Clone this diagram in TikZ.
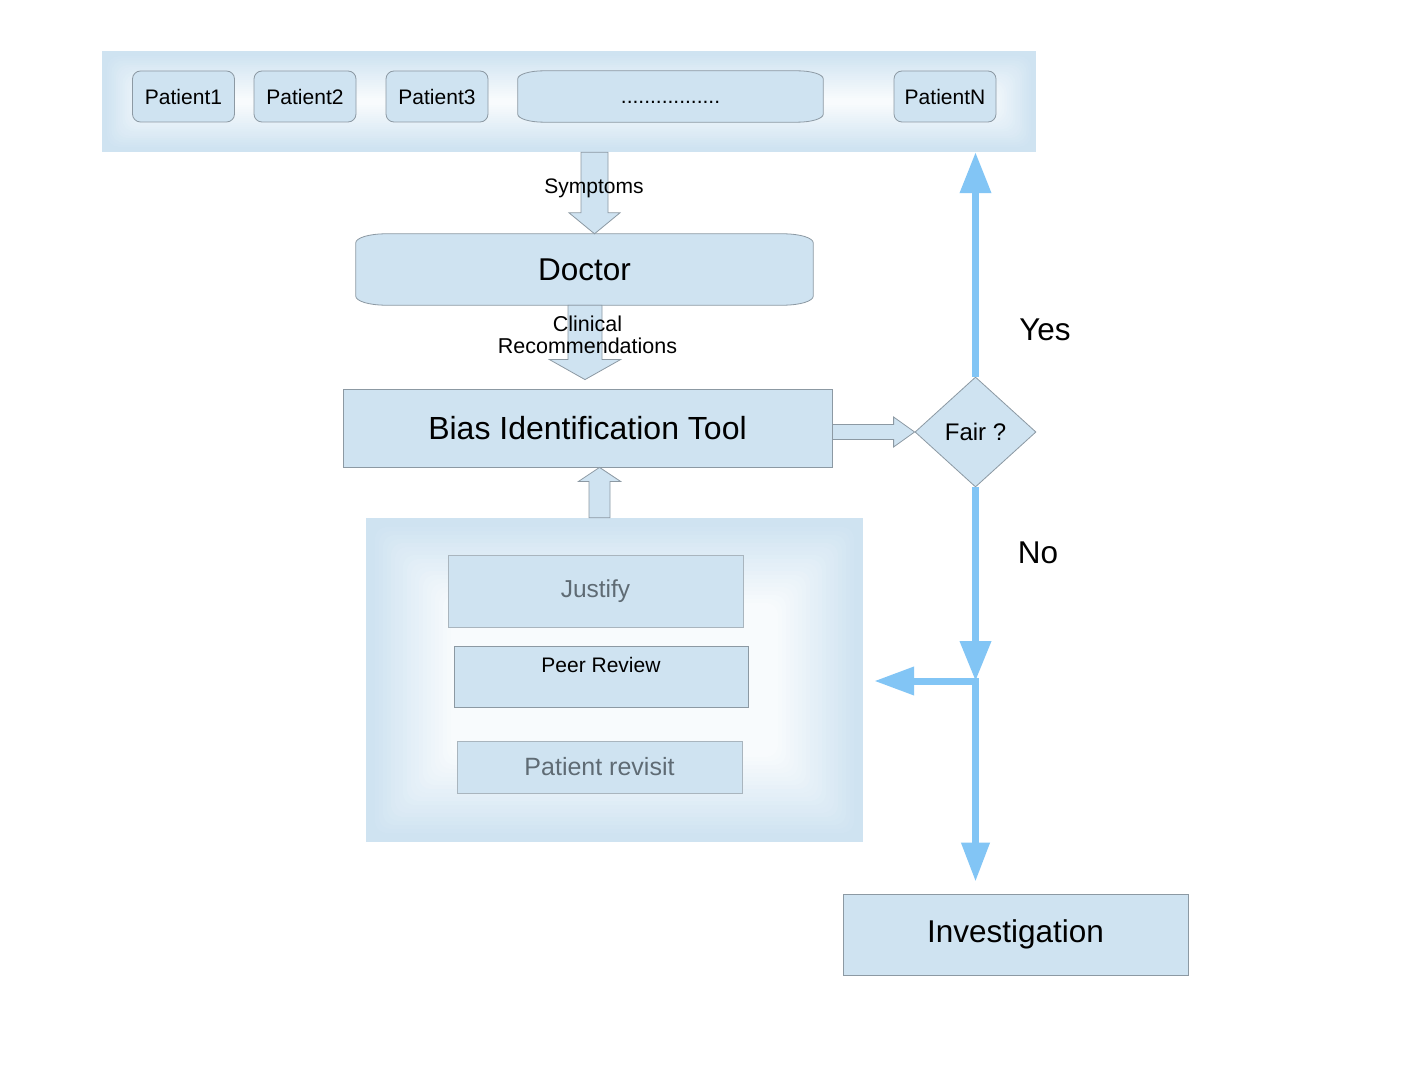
\documentclass[tikz,border=0pt]{standalone}
\usepackage{fontspec}
\setmainfont{Liberation Sans}
\usetikzlibrary{arrows.meta,calc,shapes.geometric}
\definecolor{boxfill}{HTML}{CFE3F1}
\definecolor{boxline}{HTML}{8C99A3}
\definecolor{lightline}{HTML}{A9B5BE}
\definecolor{flow}{HTML}{82C5F5}
\definecolor{greytxt}{HTML}{5F6B74}
\newcommand{\fs}[1]{\fontsize{#1}{#1}\selectfont}
% node, steps, offset, step size
\newcommand{\glowfill}[4]{%
  \foreach \k in {1,...,#2}{%
    \pgfmathtruncatemacro\pc{100-85*\k/#2}%
    \fill[boxfill!\pc!white,rounded corners=12pt]
      ($(#1.north west)+(#3+#4*\k,#3+#4*\k)$) rectangle ($(#1.south east)-(#3+#4*\k,#3+#4*\k)$);}}
\newcommand{\bulgebox}[3]{%
  \draw[base] ([xshift=#2]#1.north west) -- ([xshift=-#2]#1.north east)
    arc[start angle=90,end angle=0,x radius=#2,y radius=#3]
    -- ([yshift=#3]#1.south east)
    arc[start angle=0,end angle=-90,x radius=#2,y radius=#3]
    -- ([xshift=#2]#1.south west)
    arc[start angle=270,end angle=180,x radius=#2,y radius=#3]
    -- ([yshift=-#3]#1.north west)
    arc[start angle=180,end angle=90,x radius=#2,y radius=#3] -- cycle;}
\begin{document}
\begin{tikzpicture}[x=1pt,y=-1pt,
  base/.style={fill=boxfill,draw=boxline,line width=0.8pt},
  group/.style={fill=boxfill,inner sep=0},
  pbox/.style={base,rounded corners=8pt,inner sep=0,minimum width=102pt,minimum height=51pt,font=\fs{21}},
  rbox/.style={base,inner sep=0},
  softbox/.style={fill=boxfill,draw=lightline,line width=0.8pt,inner sep=0},
  holder/.style={inner sep=0},
  barrow/.style={fill=boxfill,draw=boxline,line width=0.8pt,line join=miter},
  flowline/.style={draw=flow,line width=7pt},
  lbl/.style={inner sep=0,font=\fs{21}},
  bigtxt/.style={font=\fs{31.5}}]
\useasboundingbox[fill=white] (0,0) rectangle (1422,1067);

% top band
\node[group,minimum width=934pt,minimum height=101pt] (band) at (569,101.5) {};
\glowfill{band}{20}{3}{2.2}
\node[pbox] (p1) at (183.5,96.5) {Patient1};
\node[pbox] (p2) at (305,96.5) {Patient2};
\node[pbox] (p3) at (437,96.5) {Patient3};
\path node[holder,minimum width=305pt,minimum height=51pt] (dots) at (670.5,96.5) {};
\bulgebox{dots}{26pt}{8pt}
\node[lbl,anchor=base] at (670.5,104) {.................};
\node[pbox] (pn) at (945,96.5) {PatientN};

% doctor
\path node[holder,minimum width=457pt,minimum height=71pt] (doctor) at (584.5,269.5) {};
\bulgebox{doctor}{30pt}{9pt}
\node[bigtxt] at (doctor.center) {Doctor};

% bias tool
\node[rbox,minimum width=489pt,minimum height=78pt,font=\fs{32}] (bias) at (587.5,428) {Bias Identification Tool};

% fair diamond
\node[diamond,base,inner sep=0,minimum width=121pt,minimum height=110pt,font=\fs{24}] (fair) at (975.5,432) {Fair ?};

% lower group
\node[group,minimum width=497pt,minimum height=324pt] (grp) at (614.5,680) {};
\glowfill{grp}{20}{5}{4}
\node[softbox,minimum width=295pt,minimum height=72pt,text=greytxt,font=\fs{24.5}] (just) at (595.5,591) {Justify};
\node[rbox,minimum width=294pt,minimum height=61pt] (peer) at (601,676.5) {};
\node[lbl] at ([yshift=-19pt]peer.north) {Peer Review};
\node[softbox,minimum width=285pt,minimum height=52pt,text=greytxt,font=\fs{25}] (revisit) at (599.5,767) {Patient revisit};

% investigation
\node[rbox,minimum width=345pt,minimum height=81pt,bigtxt] (inv) at (1015.5,934.5) {Investigation};

% block arrows
\coordinate (ax1) at (594.5,0);
\coordinate (ax2) at (585,0);
\coordinate (ax3) at (599.5,0);
% symptoms
\coordinate (s1) at (band.south -| ax1);
\coordinate (s2) at (doctor.north -| ax1);
\draw[barrow] ($(s1)+(-13.5,0)$) -- ($(s2)+(-13.5,-21)$) -- ($(s2)+(-25.5,-21)$) -- (s2)
  -- ($(s2)+(25.5,-21)$) -- ($(s2)+(13.5,-21)$) -- ($(s1)+(13.5,0)$) -- cycle;
\node[lbl] at (594,188) {Symptoms};
% clinical recommendations
\coordinate (c1) at (doctor.south -| ax2);
\coordinate (c2) at ($(bias.north -| ax2)+(0,-9)$);
\draw[barrow] ($(c1)+(-17,0)$) -- ($(c2)+(-17,-20)$) -- ($(c2)+(-35.5,-20)$) -- (c2)
  -- ($(c2)+(35.5,-20)$) -- ($(c2)+(17,-20)$) -- ($(c1)+(17,0)$) -- cycle;
\node[lbl,align=center,font=\fs{21.5}] at (587.5,335) {Clinical\\[1pt]Recommendations};
% up arrow from group
\coordinate (u1) at (grp.north -| ax3);
\coordinate (u2) at (bias.south -| ax3);
\draw[barrow] ($(u1)+(-10.5,0)$) -- ($(u2)+(-10.5,14)$) -- ($(u2)+(-21,14)$) -- (u2)
  -- ($(u2)+(21,14)$) -- ($(u2)+(10.5,14)$) -- ($(u1)+(10.5,0)$) -- cycle;
% right arrow to diamond
\coordinate (r1) at (bias.east |- fair.west);
\coordinate (r2) at (fair.west);
\draw[barrow] ($(r1)+(0,-7.5)$) -- ($(r2)+(-21,-7.5)$) -- ($(r2)+(-21,-15)$) -- (r2)
  -- ($(r2)+(-21,15)$) -- ($(r2)+(-21,7.5)$) -- ($(r1)+(0,7.5)$) -- cycle;

% flow arrows
\draw[flowline,-{Triangle[width=30pt,length=41pt]}] (fair.north) -- (band.south -| fair.north);
\node[bigtxt,inner sep=0] at (1045,330) {Yes};
\coordinate (jn) at (975.5,681);
\draw[flowline,-{Triangle[width=30pt,length=40pt]}] (fair.south) -- (jn);
\node[bigtxt,inner sep=0] at (1038,553) {No};
\draw[flowline,-{Triangle[width=27pt,length=40pt]}] ($(jn)+(3.5,0)$) -- ($(grp.east |- jn)+(11,0)$);
\draw[flowline,-{Triangle[width=27pt,length=39pt]}] (jn) -- ($(inv.north -| jn)+(0,-12)$);
\end{tikzpicture}
\end{document}
